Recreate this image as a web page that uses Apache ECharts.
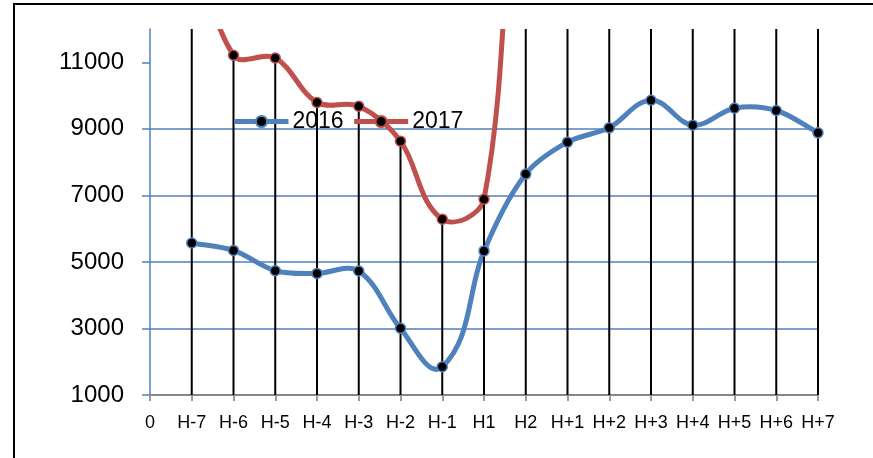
<!DOCTYPE html>
<html>
<head>
<meta charset="utf-8">
<script src="https://cdn.jsdelivr.net/npm/echarts@6/dist/echarts.min.js"></script>
<style>
  html, body { margin: 0; padding: 0; background: #ffffff; }
  #chart { width: 873px; height: 458px; }
</style>
</head>
<body>
<div id="chart"></div>
<script>
// categories along the bottom
const days = ['0', 'H-7', 'H-6', 'H-5', 'H-4', 'H-3', 'H-2', 'H-1', 'H1', 'H2',
  'H+1', 'H+2', 'H+3', 'H+4', 'H+5', 'H+6', 'H+7'];

const y2016 = [null, 5570, 5345, 4735, 4655, 4725, 3005, 1850, 5330, 7640,
  8600, 9030, 9860, 9110, 9620, 9550, 8880];
// 2017 runs off the top of the axis outside H-6..H1, those values are guesses
const y2017 = [null, 15000, 11210, 11130, 9790, 9680, 8630, 6285, 6886, 19300,
  20000, 20500, 21000, 21000, 21500, 21500, 22000];

const yTicks = [1000, 3000, 5000, 7000, 9000, 11000];
const yMin = 1000, yMax = 12000;

// drop lines: from the higher of the two points down to the axis
const drop = days.map((d, i) => {
  const a = y2016[i], b = y2017[i];
  if (a == null && b == null) return null;
  return Math.max(a ?? -Infinity, b ?? -Infinity);
});

// excel style smoothing: one bezier segment per pair of points,
// neighbours passed along so the curve can be built from api.coord
const segments = (vals) => {
  const out = [];
  for (let i = 0; i < vals.length - 1; i++) {
    if (vals[i] == null || vals[i + 1] == null) continue;
    const i0 = vals[i - 1] != null ? i - 1 : i;
    const i3 = vals[i + 2] != null ? i + 2 : i + 1;
    out.push([i, vals[i], i0, vals[i0], i + 1, vals[i + 1], i3, vals[i3]]);
  }
  return out;
};

const unit = (a, b) => {
  const dx = b[0] - a[0], dy = b[1] - a[1];
  const len = Math.hypot(dx, dy) || 1;
  return [dx / len, dy / len];
};

const curve = (color) => (params, api) => {
  const p1 = api.coord([api.value(0), api.value(1)]);
  const p0 = api.coord([api.value(2), api.value(3)]);
  const p2 = api.coord([api.value(4), api.value(5)]);
  const p3 = api.coord([api.value(6), api.value(7)]);
  // tangent direction from the neighbours, length from this segment
  const seg = Math.hypot(p2[0] - p1[0], p2[1] - p1[1]) / 3;
  const t1 = unit(p0, p2), t2 = unit(p1, p3);
  return {
    type: 'bezierCurve',
    shape: {
      x1: p1[0], y1: p1[1],
      x2: p2[0], y2: p2[1],
      cpx1: p1[0] + t1[0] * seg, cpy1: p1[1] + t1[1] * seg,
      cpx2: p2[0] - t2[0] * seg, cpy2: p2[1] - t2[1] * seg
    },
    style: { fill: null, stroke: color, lineWidth: 5, lineCap: 'round' }
  };
};

const blue = '#4F81BD';
const red = '#C0504D';

const chart = echarts.init(document.getElementById('chart'));

chart.setOption({
  animation: false,
  backgroundColor: '#ffffff',
  graphic: [{
    type: 'rect',
    shape: { x: 14, y: 4, width: 900, height: 500 },
    style: { fill: 'none', stroke: '#000000', lineWidth: 2 },
    z: 100
  }],
  grid: { left: 150, right: 55, top: 29, bottom: 63 },
  legend: {
    data: [
      { name: '2016', lineStyle: { color: blue, width: 5, opacity: 1 } },
      { name: '2017', lineStyle: { color: red, width: 5, opacity: 1 } }
    ],
    left: 232,
    top: 110,
    padding: 0,
    itemWidth: 54,
    itemHeight: 14,
    itemGap: 8,
    textStyle: { fontFamily: 'Liberation Sans', fontSize: 23, color: '#000', padding: [0, 0, 0, -1] }
  },
  xAxis: {
    type: 'category',
    data: days,
    boundaryGap: false,
    axisLine: { lineStyle: { color: '#868686', width: 2 } },
    axisTick: { show: true, length: 6, lineStyle: { color: '#9a9a9a', width: 2 } },
    axisLabel: {
      interval: 0,
      margin: 19,
      fontFamily: 'Liberation Sans',
      fontSize: 18,
      color: '#000'
    },
    splitLine: { show: false }
  },
  yAxis: {
    type: 'value',
    min: yMin,
    max: yMax,
    axisLine: { show: true, lineStyle: { color: blue, width: 1.5 } },
    axisTick: { show: true, length: 8, customValues: yTicks, lineStyle: { color: blue, width: 1.5 } },
    axisLabel: {
      margin: 26,
      customValues: yTicks,
      formatter: (v) => String(v),
      fontFamily: 'Liberation Sans',
      fontSize: 24,
      color: '#000'
    },
    splitLine: { showMaxLine: false, lineStyle: { color: blue, width: 1.5 } }
  },
  series: [
    {
      name: 'drop',
      type: 'bar',
      data: drop,
      barWidth: 2,
      itemStyle: { color: '#000' },
      silent: true
    },
    {
      name: '2016 curve',
      type: 'custom',
      data: segments(y2016),
      renderItem: curve(blue),
      clip: true,
      silent: true
    },
    {
      name: '2017 curve',
      type: 'custom',
      data: segments(y2017),
      renderItem: curve(red),
      clip: true,
      silent: true
    },
    {
      name: '2016',
      type: 'line',
      data: y2016,
      z: 5,
      symbol: 'circle',
      symbolSize: 10,
      lineStyle: { color: blue, width: 5, opacity: 0 },
      itemStyle: { color: '#000', borderColor: blue, borderWidth: 1.5 },
      color: blue
    },
    {
      name: '2017',
      type: 'line',
      data: y2017,
      z: 5,
      symbol: 'circle',
      symbolSize: 10,
      lineStyle: { color: red, width: 5, opacity: 0 },
      itemStyle: { color: '#000', borderColor: red, borderWidth: 1.5 },
      color: red
    }
  ]
});
</script>
</body>
</html>
